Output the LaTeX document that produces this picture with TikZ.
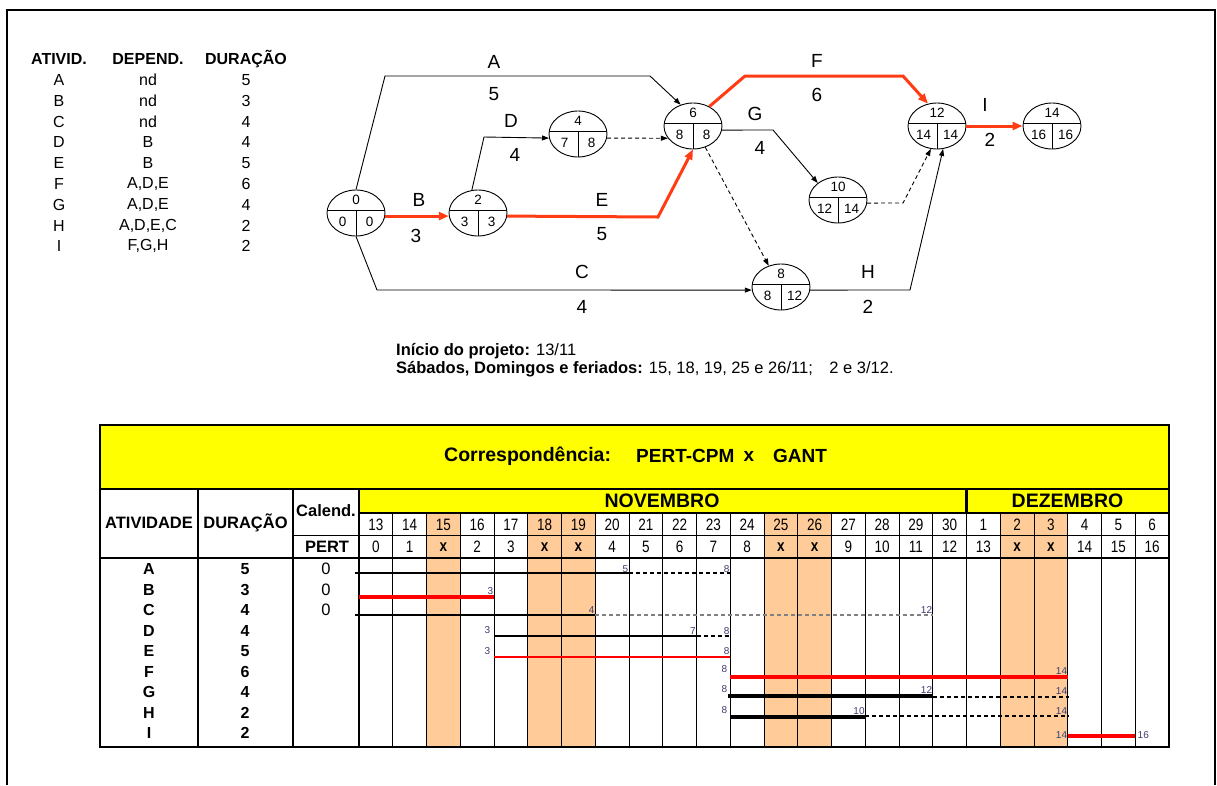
\documentclass[tikz,border=0pt]{standalone}
\usepackage{fontspec}
\setmainfont{Liberation Sans}
\usetikzlibrary{arrows.meta,shapes.geometric}
\definecolor{cpred}{RGB}{255,60,20}
\definecolor{gred}{RGB}{255,0,0}
\definecolor{peach}{RGB}{255,204,153}
\definecolor{yel}{RGB}{255,255,0}
\definecolor{lbl}{RGB}{60,60,110}
\newcommand{\fsz}[1]{\fontsize{#1}{#1}\selectfont}
\tikzset{
 ev/.style={draw, ellipse, minimum width=58pt, minimum height=46pt, inner sep=0pt, line width=0.9pt},
 num/.style={font=\fsz{13.5}, inner sep=0pt},
 lab/.style={font=\fsz{19}, inner sep=0pt},
 act/.style={line width=0.9pt, -{Triangle[length=7pt,width=5pt]}},
 crit/.style={cpred, line width=3pt, -{Triangle[length=10pt,width=8pt]}},
 dum/.style={act, dash pattern=on 4pt off 3pt},
 hd/.style={font=\fsz{16}\bfseries, inner sep=0pt},
 rw/.style={font=\fsz{16}, inner sep=0pt},
 ghd/.style={font=\fsz{16.5}\bfseries, inner sep=0pt},
 gtx/.style={font=\fsz{16.5}, inner sep=0pt},
 gbd/.style={font=\fsz{16}\bfseries, inner sep=0pt},
 sl/.style={font=\fsz{10}, text=lbl, inner sep=0.5pt},
 thk/.style={line width=2.5pt},
 thn/.style={line width=1pt},
 dsh/.style={line width=1.2pt, dash pattern=on 4pt off 3pt},
}
\newcommand{\eventnode}[6]{%
 \node[ev] (#1) at (#2,#3) {};
 \draw[line width=0.9pt] ({#2-28.7},{#3-3}) -- ({#2+28.7},{#3-3});
 \draw[line width=0.9pt] ({#2},{#3-3}) -- ({#2},{#3+23});
 \node[num] (#1t) at ({#2},{#3-13}) {#4};
 \node[num] (#1l) at ({#2-13.5},{#3+9}) {#5};
 \node[num] (#1r) at ({#2+13.5},{#3+9}) {#6};
}
\begin{document}
\begin{tikzpicture}[x=1pt,y=-1pt]
\useasboundingbox (0,0) rectangle (1217,785);
\draw[line width=2.5pt] (7,785) -- (7,10) -- (1215,10) -- (1215,785);

% ---------- activity table
\node[hd] (h1) at (59,59) {ATIVID.};
\node[hd] (h2) at (148,59) {DEPEND.};
\node[hd] (h3) at (246,59) {DURAÇÃO};
\node[rw] (ra1) at (59,80) {A};   \node[rw] (rb1) at (148,80) {nd};      \node[rw] (rc1) at (246,80) {5};
\node[rw] (ra2) at (59,100.8) {B}; \node[rw] (rb2) at (148,100.8) {nd};  \node[rw] (rc2) at (246,100.8) {3};
\node[rw] (ra3) at (59,121.6) {C}; \node[rw] (rb3) at (148,121.6) {nd};  \node[rw] (rc3) at (246,121.6) {4};
\node[rw] (ra4) at (59,142.4) {D}; \node[rw] (rb4) at (148,142.4) {B};   \node[rw] (rc4) at (246,142.4) {4};
\node[rw] (ra5) at (59,163.2) {E}; \node[rw] (rb5) at (148,163.2) {B};   \node[rw] (rc5) at (246,163.2) {5};
\node[rw] (ra6) at (59,184) {F};   \node[rw] (rb6) at (148,184) {A,D,E}; \node[rw] (rc6) at (246,184) {6};
\node[rw] (ra7) at (59,204.8) {G}; \node[rw] (rb7) at (148,204.8) {A,D,E}; \node[rw] (rc7) at (246,204.8) {4};
\node[rw] (ra8) at (59,225.6) {H}; \node[rw] (rb8) at (148,225.6) {A,D,E,C}; \node[rw] (rc8) at (246,225.6) {2};
\node[rw] (ra9) at (59,246.4) {I}; \node[rw] (rb9) at (148,246.4) {F,G,H}; \node[rw] (rc9) at (246,246.4) {2};

% ---------- network
\eventnode{n0}{356}{213}{0}{0}{0}
\eventnode{n2}{478}{213}{2}{3}{3}
\eventnode{n4}{578}{134}{4}{7}{8}
\eventnode{n6}{693}{126}{6}{8}{8}
\eventnode{n10}{838}{200}{10}{12}{14}
\eventnode{n8}{781}{287}{8}{8}{12}
\eventnode{n12}{937}{126}{12}{14}{14}
\eventnode{n14}{1052}{126}{14}{16}{16}

\draw[act] (n0.north) -- (385,76) -- (650,76) -- (n6.120);
\draw[crit] (n0.-6) -- (n2.186);
\draw[act] (n2.105) -- (484,137) -- (n4.188);
\draw[dum] (n4.-8) -- (n6.206);
\draw[crit] (n2.-6) -- (658,217) -- (n6.south);
\draw[act] (n0.south) -- (377,290) -- (n8.186);
\draw[crit] (n6.50) -- (745,76) -- (903,76) -- (n12.112);
\draw[act] (n6.-8) -- (773,130) -- (n10.140);
\draw[dum] (n6.-60) -- (n8.120);
\draw[dum] (n10.-6) -- (903,203) -- (n12.-105);
\draw[act] (n8.-6) -- (910,290) -- (n12.-75);
\draw[crit] (n12.east) -- (n14.west);

\node[lab] (lA) at (494,62) {A};  \node[lab] (dA) at (494,94) {5};
\node[lab] (lB) at (419,200) {B}; \node[lab] (dB) at (416,236) {3};
\node[lab] (lD) at (511,121) {D}; \node[lab] (dD) at (515,155) {4};
\node[lab] (lE) at (602,200) {E}; \node[lab] (dE) at (602,234) {5};
\node[lab] (lC) at (582,272) {C}; \node[lab] (dC) at (582,307) {4};
\node[lab] (lF) at (817,61) {F};  \node[lab] (dF) at (817,95) {6};
\node[lab] (lG) at (755,114) {G}; \node[lab] (dG) at (760,148) {4};
\node[lab] (lH) at (868,272) {H}; \node[lab] (dH) at (868,307) {2};
\node[lab] (lI) at (985,105) {I}; \node[lab] (dI) at (990,140) {2};

\node[font=\fsz{16.5}, anchor=west, inner sep=0pt] (ini) at (396,351) {\textbf{Início do projeto:} 13/11};
\node[font=\fsz{16.5}, anchor=west, inner sep=0pt] (sab) at (396,369) {\textbf{Sábados, Domingos e feriados:} 15, 18, 19, 25 e 26/11;\hspace{12pt} 2 e 3/12.};

% ---------- Gantt
\fill[yel] (100,425) rectangle (1169,489);
\fill[yel] (359,489) rectangle (1169,513);
\foreach \i in {2,5,6,12,13,19,20}
  \fill[peach] ({359+33.75*\i},513) rectangle ({359+33.75*(\i+1)},747);
\foreach \i in {1,...,23}
  \draw[thn] ({359+33.75*\i},513) -- ({359+33.75*\i},747);
\draw[line width=1.5pt] (359,513) -- (1169,513);
\draw[thn] (293,535) -- (1169,535);
\draw[thk] (100,489) -- (1169,489);
\draw[thk] (100,558) -- (1169,558);
\foreach \x in {198,293,359} \draw[thk] (\x,489) -- (\x,747);
\draw[thk] (966.5,489) -- (966.5,513);
\draw[thk] (100,425) rectangle (1169,747);

\node[font=\fsz{19.5}\bfseries, anchor=west, inner sep=0pt] (t1) at (444,456) {Correspondência:};
\node[font=\fsz{19}\bfseries, anchor=west, inner sep=0pt] (t2) at (636,456) {PERT-CPM};
\node[font=\fsz{19}\bfseries, inner sep=0pt] (t3) at (749,456) {x};
\node[font=\fsz{19}\bfseries, anchor=west, inner sep=0pt] (t4) at (773,456) {GANT};
\node[font=\fsz{19.5}\bfseries, inner sep=0pt] (mN) at (662,501) {NOVEMBRO};
\node[font=\fsz{19.5}\bfseries, inner sep=0pt] (mD) at (1067.5,501) {DEZEMBRO};

\node[ghd] (gA) at (149,523) {ATIVIDADE};
\node[ghd] (gD) at (245.5,523) {DURAÇÃO};
\node[ghd] (gC) at (326,511) {Calend.};
\node[ghd] (gP) at (327,547) {PERT};

\foreach \d [count=\i from 0] in {13,14,15,16,17,18,19,20,21,22,23,24,25,26,27,28,29,30,1,2,3,4,5,6}
  \node[gtx] (dd\i) at ({359+33.75*\i+16.875},524.5) {\scalebox{0.82}[1]{\d}};
\foreach \d [count=\i from 0] in {0,1,\textbf{x},2,3,\textbf{x},\textbf{x},4,5,6,7,8,\textbf{x},\textbf{x},9,10,11,12,13,\textbf{x},\textbf{x},14,15,16}
  \node[gtx] (pp\i) at ({359+33.75*\i+16.875},547) {\scalebox{0.82}[1]{\d}};

\foreach \a/\u [count=\k from 0] in {A/5,B/3,C/4,D/4,E/5,F/6,G/4,H/2,I/2}{
  \node[gbd] (ga\k) at (149,{569+20.5*\k}) {\a};
  \node[gbd] (gu\k) at (245,{569+20.5*\k}) {\u};
}
\node[gtx] (gc0) at (326,569) {0};
\node[gtx] (gc1) at (326,589.5) {0};
\node[gtx] (gc2) at (326,610) {0};

% bars
% A
\draw[line width=2pt] (355,573) -- (629,573);
\draw[dsh] (629,573) -- (730.25,573);
\node[sl, anchor=south east] (bA1) at (629,573) {5};
\node[sl, anchor=south east] (bA2) at (730.25,573) {8};
% B
\draw[gred, line width=3.5pt] (359,597) -- (494,597);
\node[sl, anchor=south east] (bB1) at (494,595) {3};
% C
\draw[line width=2pt] (355,615) -- (595.25,615);
\draw[dsh, gray] (595.25,615) -- (932.75,615);
\node[sl, anchor=south east] (bC1) at (595.25,614) {4};
\node[sl, anchor=south east] (bC2) at (932.75,614) {12};
% D
\node[sl, anchor=south east] (bD0) at (491,634) {3};
\draw[line width=2pt] (494,636) -- (696.5,636);
\draw[dsh] (696.5,636) -- (730.25,636);
\node[sl, anchor=south east] (bD1) at (696.5,635) {7};
\node[sl, anchor=south east] (bD2) at (730.25,635) {8};
% E
\node[sl, anchor=south east] (bE0) at (491,655) {3};
\draw[gred, line width=2.5pt] (494,657) -- (730.25,657);
\node[sl, anchor=south east] (bE1) at (730.25,655) {8};
% F
\node[sl, anchor=south east] (bF0) at (728,673) {8};
\draw[gred, line width=4pt] (730.25,677) -- (1067.75,677);
\node[sl, anchor=south east] (bF1) at (1067.75,675) {14};
% G
\node[sl, anchor=south east] (bG0) at (728,693) {8};
\draw[line width=4pt] (728,696) -- (932.75,696);
\draw[dsh] (932.75,697) -- (1069,697);
\node[sl, anchor=south east] (bG1) at (932.75,694) {12};
\node[sl, anchor=south east] (bG2) at (1067.75,695) {14};
% H
\node[sl, anchor=south east] (bH0) at (728,714) {8};
\draw[line width=3.5pt] (730.25,717) -- (865.25,717);
\draw[dsh] (865.25,716) -- (1069,716);
\node[sl, anchor=south east] (bH1) at (865.25,715) {10};
\node[sl, anchor=south east] (bH2) at (1067.75,715) {14};
% I
\node[sl, anchor=east] (bI0) at (1067.75,735) {14};
\draw[gred, line width=4pt] (1067.75,736) -- (1135.25,736);
\node[sl, anchor=west] (bI1) at (1137,735) {16};
\end{tikzpicture}
\end{document}
